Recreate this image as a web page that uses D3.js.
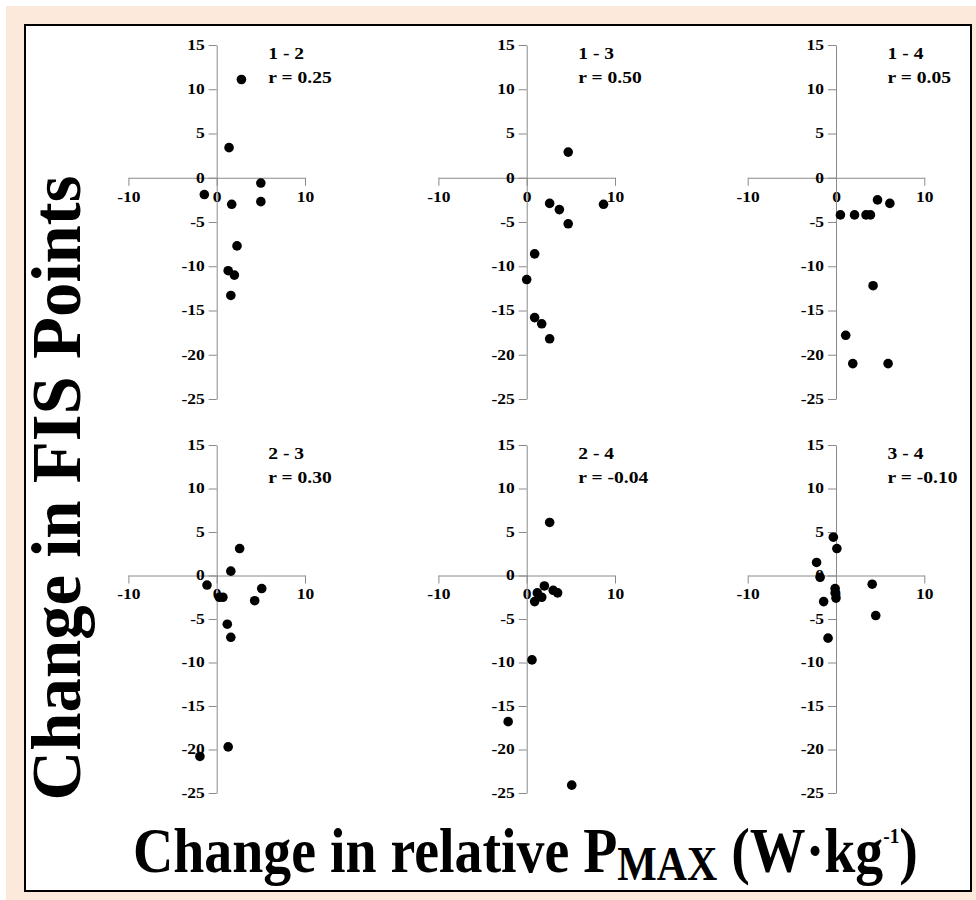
<!DOCTYPE html>
<html><head><meta charset="utf-8">
<script src="https://cdn.jsdelivr.net/npm/d3@7"></script>
<style>body{margin:0;background:#fff} svg{display:block}</style>
</head><body>
<svg id="c" width="976" height="900"></svg>
<script>
// ---- data ----
const panelNames = ["1 - 2", "1 - 3", "1 - 4", "2 - 3", "2 - 4", "3 - 4"];
const rValues = ["0.25", "0.50", "0.05", "0.30", "-0.04", "-0.10"];
const xTickValues = [-10, 0, 10];
const yTickValues = [15, 10, 5, 0, -5, -10, -15, -20, -25];

const x12 = [2.8, 1.4, -1.4, 5.0, 5.0, 1.7, 2.3, 1.3, 2.0, 1.6];
const y12 = [11.1, 3.4, -1.9, -0.6, -2.7, -3.0, -7.7, -10.5, -11.0, -13.3];
const x13 = [4.7, 2.6, 3.7, 4.7, 8.7, 0.9, 0.0, 0.9, 1.7, 2.6];
const y13 = [2.9, -2.9, -3.6, -5.2, -3.0, -8.6, -11.5, -15.8, -16.5, -18.2];
const x14 = [0.5, 2.1, 3.4, 3.9, 4.7, 6.1, 4.2, 1.1, 1.9, 5.9];
const y14 = [-4.2, -4.2, -4.2, -4.2, -2.5, -2.9, -12.2, -17.8, -21.0, -21.0];
const x23 = [2.6, 1.6, -1.1, 0.3, 0.7, 4.3, 5.1, 1.2, 1.6, 1.3, -1.9];
const y23 = [3.1, 0.5, -1.1, -2.5, -2.5, -2.9, -1.5, -5.6, -7.1, -19.7, -20.8];
const x24 = [2.6, 2.0, 1.2, 0.9, 1.7, 3.0, 3.5, 0.6, -2.1, 5.1];
const y24 = [6.1, -1.2, -2.0, -3.0, -2.5, -1.7, -2.0, -9.7, -16.8, -24.1];
const x34 = [-0.3, 0.1, -2.2, -1.8, -0.1, -0.1, 0.0, -1.4, -0.9, 4.1, 4.5];
const y34 = [4.4, 3.1, 1.5, -0.2, -1.5, -2.0, -2.6, -3.0, -7.2, -1.0, -4.6];

const seriesX = [x12, x13, x14, x23, x24, x34];
const seriesY = [y12, y13, y14, y23, y24, y34];

// ---- layout ----
const svg = d3.select("#c");
const serif = "Liberation Serif, Times New Roman, serif";
const axisColor = "#8a8a8a";

svg.append("rect").attr("x", 6).attr("y", 6).attr("width", 970).attr("height", 894).attr("fill", "#fce9db");
svg.append("rect").attr("x", 25).attr("y", 25).attr("width", 946).attr("height", 866)
  .attr("fill", "#fff").attr("stroke", "#000").attr("stroke-width", 2);

const colAxisX = [216.7, 526.7, 836];
const rowTop = [45, 445];
const rowBot = [399, 793];
const halfW = 88.3;
const tickSX = 1.25;

panelNames.forEach((name, i) => {
  const col = i % 3, row = Math.floor(i / 3);
  const ax = colAxisX[col];
  const xs = d3.scaleLinear().domain([-10, 10]).range([ax - halfW, ax + halfW]);
  const ys = d3.scaleLinear().domain([15, -25]).range([rowTop[row], rowBot[row]]);
  const g = svg.append("g");

  // x axis
  const gx = g.append("g").attr("transform", `translate(0,${ys(0)})`)
    .call(d3.axisBottom(xs).tickValues(xTickValues).tickSize(8).tickSizeOuter(0).tickFormat(d => String(d)));
  gx.selectAll("text").attr("y", 24).attr("dy", 0)
    .attr("transform", `scale(${tickSX},1)`);

  // y axis
  const gy = g.append("g").attr("transform", `translate(${ax},0)`)
    .call(d3.axisLeft(ys).tickValues(yTickValues).tickSize(8).tickSizeOuter(0).tickPadding(4).tickFormat(d => String(d)));
  gy.selectAll("text").attr("transform", `translate(-12,0) scale(${tickSX},1) translate(12,0)`);

  [gx, gy].forEach(a => {
    a.select(".domain").attr("stroke", axisColor);
    a.selectAll(".tick line").attr("stroke", axisColor);
    a.selectAll("text").attr("font-family", serif).attr("font-weight", "bold")
      .attr("font-size", 14).attr("fill", "#000");
  });

  // points
  g.selectAll("circle").data(seriesX[i].map((v, k) => [v, seriesY[i][k]]))
    .join("circle").attr("cx", d => xs(d[0])).attr("cy", d => ys(d[1]))
    .attr("r", 4.8).attr("fill", "#000");

  // labels
  const lx = ax + 51.6;
  [name, "r = " + rValues[i]].forEach((t, k) => {
    g.append("text").attr("transform", `translate(${lx},${rowTop[row] + 14 + k * 24}) scale(1.15,1)`)
      .attr("font-family", serif).attr("font-weight", "bold").attr("font-size", 17)
      .attr("fill", "#000").text(t);
  });
});

// y title
const yt = svg.append("text").attr("font-family", serif).attr("font-weight", "bold")
  .attr("font-size", 70).attr("text-anchor", "middle").attr("fill", "#000").text("Change in FIS Points");
const ytLen = yt.node().getComputedTextLength();
yt.attr("transform", `translate(80,488) rotate(-90) scale(${625 / ytLen},1)`);

// x title
const xt = svg.append("text").attr("font-family", serif).attr("font-weight", "bold")
  .attr("font-size", 64).attr("fill", "#000");
xt.append("tspan").text("Change in relative P");
xt.append("tspan").attr("font-size", 48).attr("dy", 8).text("MAX");
xt.append("tspan").attr("dy", -8).text(" (W\u00b7kg");
xt.append("tspan").attr("font-size", 22).attr("dy", -29).text("-1");
xt.append("tspan").attr("dy", 29).text(")");
const xtW = xt.node().getBBox().width;
xt.attr("transform", `translate(133,872) scale(${785 / xtW},1)`);
</script>
</body></html>
